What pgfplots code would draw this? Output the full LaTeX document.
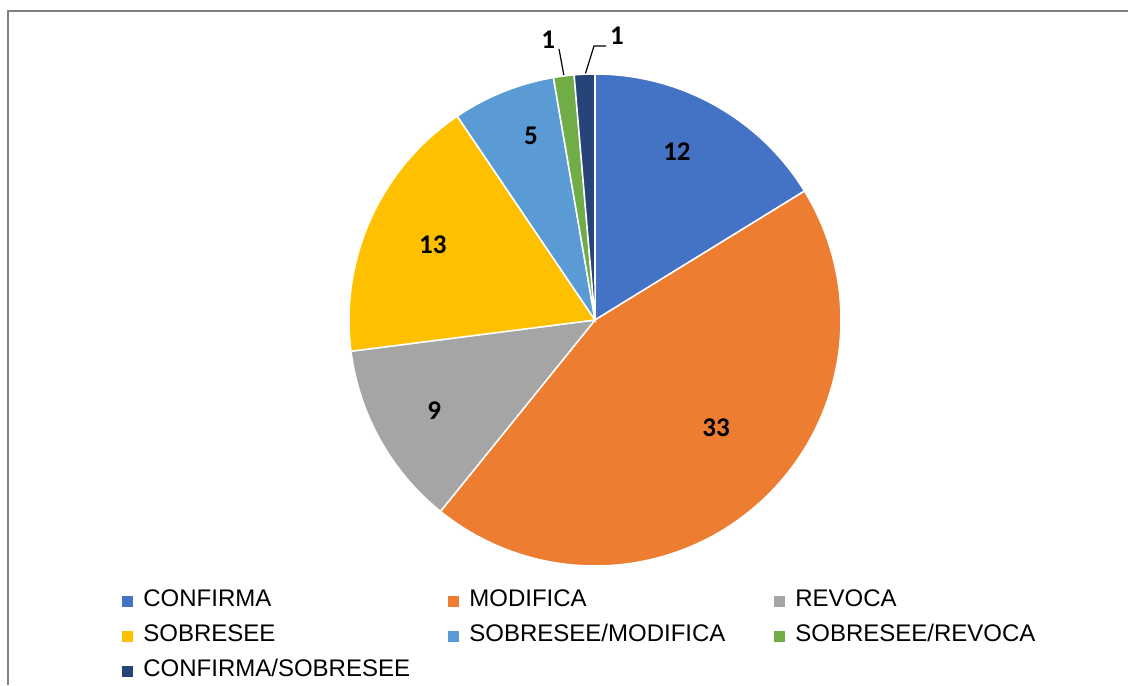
\documentclass[border=0pt]{standalone}
\usepackage{pgfplots}
\pgfplotsset{compat=1.18}
\usepgfplotslibrary{polar}
\usepackage{fontspec}
\setmainfont{Liberation Sans}
\newfontfamily\calib{Carlito}
\definecolor{c1}{HTML}{4472C4}
\definecolor{c2}{HTML}{ED7D31}
\definecolor{c3}{HTML}{A5A5A5}
\definecolor{c4}{HTML}{FFC000}
\definecolor{c5}{HTML}{5B9BD5}
\definecolor{c6}{HTML}{70AD47}
\definecolor{c7}{HTML}{264478}
% #1 = cumulative count before the slice, #2 = count, #3 = colour (total 74)
\newcommand\slice[3]{%
  \addplot[fill=#3, draw=white, line width=0.75pt, domain={90-360*(#1+#2)/74}:{90-360*(#1)/74}, samples=90] {1} -- (axis cs:0,0) -- cycle;}
\newcommand\lab[1]{\makebox[152.5pt][l]{#1}}
\begin{document}
\begin{tikzpicture}
\begin{scope}[x=0.5pt,y=0.5pt]
\useasboundingbox (0,0) rectangle (1128,685);
\draw[color=black!50, line width=0.8pt] (8,0) -- (8,674) -- (1128,674);
\draw[line width=0.6pt] (564,609) -- (559,636);
\draw[line width=0.6pt] (585,610) -- (594,639) -- (606,639);
\end{scope}
\begin{polaraxis}[
  at={(297.5pt,182.5pt)}, anchor=center,
  scale only axis, width=246pt, height=246pt,
  hide axis, clip=false,
  xmin=0, xmax=360, ymin=0, ymax=1,
  legend columns=3,
  legend image code/.code={\path[#1, draw=none] (0pt,-2.75pt) rectangle (5.5pt,2.75pt); \path[draw=none, fill=none] (0pt,0pt) -- (10.5pt,0pt);},
  legend style={draw=none, fill=none, inner sep=0pt, column sep=0pt, row sep=7pt,
    at={(-0.4614,-0.0498)}, anchor=north west,
    font=\fontsize{12}{13}\selectfont,
    nodes={inner sep=0pt, text height=8pt, text depth=2.5pt}},
]
\slice{0}{12}{c1}  \addlegendentry{\lab{CONFIRMA}}
\slice{12}{33}{c2} \addlegendentry{\lab{MODIFICA}}
\slice{45}{9}{c3}  \addlegendentry{\lab{REVOCA}}
\slice{54}{13}{c4} \addlegendentry{\lab{SOBRESEE}}
\slice{67}{5}{c5}  \addlegendentry{\lab{SOBRESEE/MODIFICA}}
\slice{72}{1}{c6}  \addlegendentry{\lab{SOBRESEE/REVOCA}}
\slice{73}{1}{c7}  \addlegendentry{\lab{CONFIRMA/SOBRESEE}}
\begin{scope}[every node/.style={font=\calib\bfseries\fontsize{13.5}{15}\selectfont}]
\node at (axis cs:64.0,0.76) {12};
\node at (axis cs:318.2,0.66) {33};
\node at (axis cs:209.4,0.75) {9};
\node at (axis cs:155.2,0.726) {13};
\node at (axis cs:109.2,0.793) {5};
\node at (axis cs:99.5,1.154) {1};
\node at (axis cs:85.6,1.158) {1};
\end{scope}
\end{polaraxis}
\end{tikzpicture}
\end{document}
